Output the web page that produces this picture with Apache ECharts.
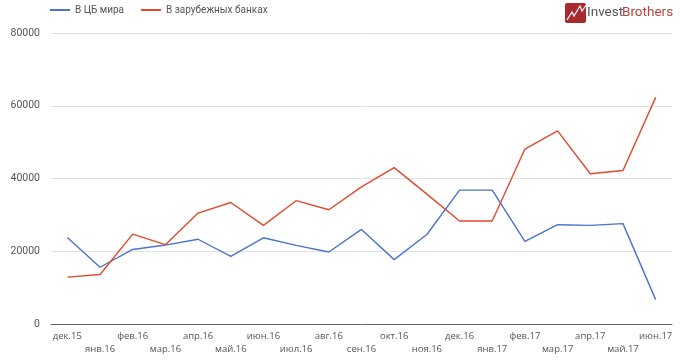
<!DOCTYPE html>
<html><head><meta charset="utf-8">
<style>html,body{margin:0;padding:0;background:#fff}#c{width:680px;height:362px}</style>
<script src="https://cdn.jsdelivr.net/npm/echarts@6/dist/echarts.min.js"></script></head>
<body><div id="c"></div>
<script>
const categories = ['дек.15','янв.16','фев.16','мар.16','апр.16','май.16','июн.16','июл.16','авг.16','сен.16','окт.16','ноя.16','дек.16','янв.17','фев.17','мар.17','апр.17','май.17','июн.17'];
const central = [23800,15600,20500,21700,23300,18600,23700,21600,19800,26000,17700,24600,36800,36800,22700,27300,27100,27600,6700];
const foreign = [12900,13600,24700,21800,30500,33400,27100,33900,31400,37700,43000,35700,28300,28300,48100,53100,41300,42200,62300];
const chart = echarts.init(document.getElementById('c'));
chart.setOption({
  animation:false,
  grid:{left:51,right:8,top:33,bottom:38},
  legend:{left:45,top:0,itemWidth:20,itemHeight:2,itemGap:17,icon:'rect',
    textStyle:{fontFamily:'Roboto',fontSize:10,color:'#555',padding:[0,0,0,0]},
    data:['В ЦБ мира','В зарубежных банках']},
  xAxis:{type:'category',data:categories,boundaryGap:true,
    axisTick:{show:false},
    axisLine:{lineStyle:{color:'#666',width:1}},
    axisLabel:{interval:0,hideOverlap:false,margin:6,fontFamily:'Open Sans',fontSize:9.5,color:'#555',lineHeight:13,
      formatter:(v,i)=> i%2 ? '\n'+v : v+'\n'}},
  yAxis:{type:'value',min:0,max:80000,interval:20000,
    axisLine:{show:false},axisTick:{show:false},
    splitLine:{lineStyle:{color:'#e2e2e2',width:1}},
    axisLabel:{margin:11,fontFamily:'Roboto',fontSize:10.5,color:'#555',formatter:v=>String(v)}},
  series:[
    {name:'В ЦБ мира',type:'line',data:central,symbol:'none',lineStyle:{color:'#4a74c9',width:1.4},itemStyle:{color:'#4a74c9'}},
    {name:'В зарубежных банках',type:'line',data:foreign,symbol:'none',lineStyle:{color:'#e04a2c',width:1.4},itemStyle:{color:'#e04a2c'}}
  ],
  graphic:[
    {type:'rect',shape:{x:565,y:3,width:21,height:20,r:2},style:{fill:'#a92a2e'}},
    {type:'polyline',shape:{points:[[567,20],[572,12],[574,16],[580,6],[582,11],[587,4]]},style:{stroke:'#fff',fill:null,lineWidth:1.2}},
    {type:'text',x:587,y:6,style:{text:'Invest',fontFamily:'Roboto',fontSize:13.5,fill:'#555'}},
    {type:'text',x:622,y:6,style:{text:'Brothers',fontFamily:'Roboto',fontSize:13.5,fill:'#b5443f'}}
  ]
});
</script></body></html>
